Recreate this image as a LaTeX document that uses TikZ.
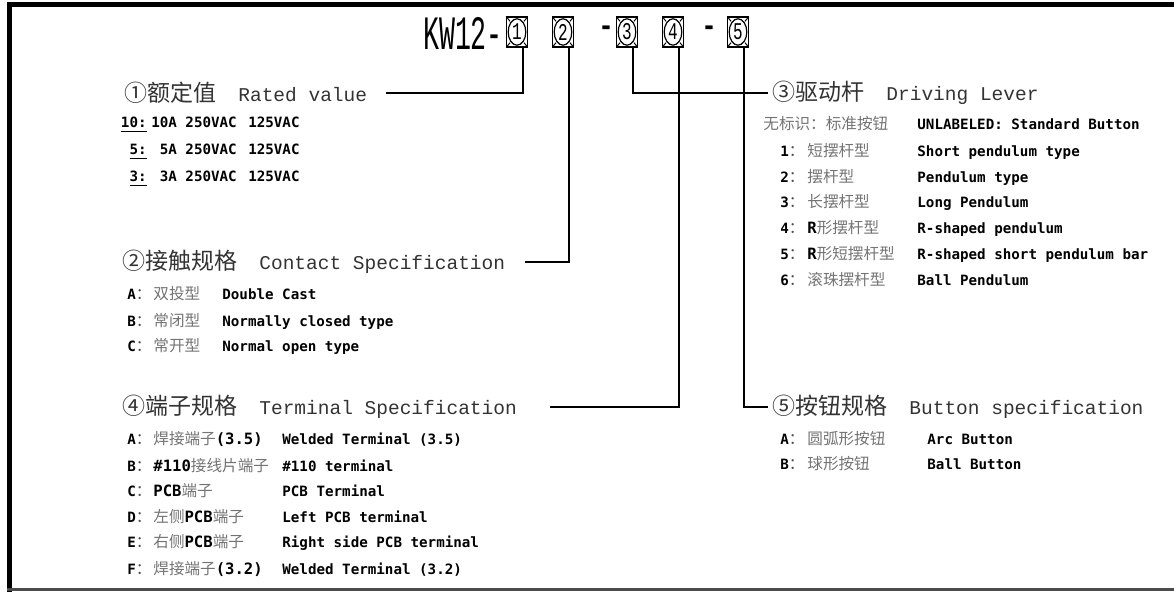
\documentclass[tikz,border=0pt]{standalone}
\usepackage{fontspec}
\usetikzlibrary{calc}
\newfontfamily\cjk{Noto Sans CJK SC}
\newfontfamily\monof{Liberation Mono}
\newfontfamily\boldf{DejaVu Sans Mono}
\newcommand\cjkhead{\cjk\fontsize{11.5}{12}\selectfont}
\newcommand\monohead{\monof\fontsize{9.75}{11}\selectfont}
\newcommand\itemen{\boldf\bfseries\fontsize{7.1}{8}\selectfont}
\newcommand\itemcn{\cjk\fontsize{7.8}{8}\selectfont}
\newcommand\bl[1]{{\boldf\bfseries\color{black}#1}}
\newcommand\lbl[1]{{\itemen #1}{\itemcn\color{black!70}：}}
\newcommand\heading[2]{{\cjkhead #1}\hspace{11pt}{\monohead #2}}

\begin{document}
\begin{tikzpicture}[x=0.5pt,y=-0.5pt,
    hd/.style={anchor=west,inner sep=2pt,text=black!80},
    lab/.style={anchor=base west,inner sep=0pt},
    cn/.style={anchor=base west,inner sep=0pt,font=\itemcn,text=black!55},
    en/.style={anchor=base west,inner sep=0pt,font=\itemen},
    rated/.style={anchor=base east,inner sep=0pt,font=\itemen},
    digbox/.style={draw,line width=0.9pt,minimum width=10.5pt,minimum height=15pt,inner sep=0pt,
      font=\monof\fontsize{8}{8}\selectfont,
      path picture={
        \draw[line width=0.6pt] (path picture bounding box.center) ellipse (4.4pt and 6.6pt);
        \draw[line width=0.5pt] (path picture bounding box.north west) -- ++(1.8pt,-2.2pt)
          (path picture bounding box.north east) -- ++(-1.8pt,-2.2pt)
          (path picture bounding box.south west) -- ++(1.8pt,2.2pt)
          (path picture bounding box.south east) -- ++(-1.8pt,2.2pt);}},
    link/.style={line width=1pt}]
  \useasboundingbox (0,0) rectangle (1174,592);

  % frame
  \draw[line width=2.5pt] (7,4.5) -- (1174,4.5);
  \draw[line width=2.5pt] (9.5,2) -- (9.5,592);
  \draw[line width=1.5pt,black!70] (7,590) -- (1174,590);

  % part number
  \node[inner sep=0pt,font=\monof\fontsize{13.3}{14}\selectfont] (title) at (463,33) {\scalebox{1}[1.8]{KW12-}};
  \node[digbox] (b1) at (517,32) {\scalebox{1}[1.5]{1}};
  \node[digbox] (b2) at (563,32) {\scalebox{1}[1.5]{2}};
  \node[inner sep=0pt,font=\monof\fontsize{13.3}{14}\selectfont] (d1) at (606,33) {\scalebox{1}[1.8]{-}};
  \node[digbox] (b3) at (627,32) {\scalebox{1}[1.5]{3}};
  \node[digbox] (b4) at (673,32) {\scalebox{1}[1.5]{4}};
  \node[inner sep=0pt,font=\monof\fontsize{13.3}{14}\selectfont] (d2) at (709,33) {\scalebox{1}[1.8]{-}};
  \node[digbox] (b5) at (738,32) {\scalebox{1}[1.5]{5}};

  % headings
  \node[hd] (h1) at (120,93) {\heading{①额定值}{Rated value}};
  \node[hd] (h2) at (118,262) {\heading{②接触规格}{Contact Specification}};
  \node[hd] (h3) at (768,93) {\heading{③驱动杆}{Driving Lever}};
  \node[hd] (h4) at (118,407) {\heading{④端子规格}{Terminal Specification}};
  \node[hd] (h5) at (768,407) {\heading{⑤按钮规格}{Button specification}};

  % leaders
  \draw[link] ([xshift=3pt]b1.south) |- ($(h1.east)+(14,0)$);
  \draw[link] ([xshift=3pt]b2.south) |- ($(h2.east)+(15,0)$);
  \draw[link] ([xshift=3pt]b3.south) |- (h3.west);
  \draw[link] ([xshift=3pt]b4.south) |- ($(h4.east)+(29,0)$);
  \draw[link] ([xshift=3pt]b5.south) |- (h5.west);

  % rated value
  \node[rated] (r1l1) at (147,128) {\underline{10:}};
  \node[rated] (r1v1) at (300,128) {10A 250VAC\hspace{1.5pt} 125VAC};
  \node[rated] (r1l2) at (147,155) {\underline{5:}};
  \node[rated] (r1v2) at (300,155) {5A 250VAC\hspace{1.5pt} 125VAC};
  \node[rated] (r1l3) at (147,182) {\underline{3:}};
  \node[rated] (r1v3) at (300,182) {3A 250VAC\hspace{1.5pt} 125VAC};

  % contact specification
  \foreach \yy/\nm/\zh/\tx [count=\i] in {295/A/双投型/Double Cast,
      322/B/常闭型/Normally closed type,
      347/C/常开型/Normal open type}{
    \node[lab] (r2l\i) at (127,\yy+5) {\lbl{\nm}};
    \node[cn] (r2c\i) at (153,\yy+5) {\zh};
    \node[en] (r2e\i) at (222,\yy+5) {\tx};
  }

  % driving lever
  \node[cn] (r3c0) at (763,130) {无标识：标准按钮};
  \node[en] (r3e0) at (917,130) {UNLABELED: Standard Button};
  \foreach \yy/\nm/\zh/\tx [count=\i] in {152/1/短摆杆型/Short pendulum type,
      178/2/摆杆型/Pendulum type,
      203/3/长摆杆型/Long Pendulum,
      229/4/\bl{R}形摆杆型/R-shaped pendulum,
      255/5/\bl{R}形短摆杆型/R-shaped short pendulum bar,
      281/6/滚珠摆杆型/Ball Pendulum}{
    \node[lab] (r3l\i) at (780,\yy+5) {\lbl{\nm}};
    \node[cn] (r3c\i) at (807,\yy+5) {\zh};
    \node[en] (r3e\i) at (917,\yy+5) {\tx};
  }

  % terminal specification
  \foreach \yy/\nm/\zh/\tx [count=\i] in {440/A/焊接端子\bl{(3.5)}/Welded Terminal (3.5),
      467/B/\bl{\#110}接线片端子/\#110 terminal,
      492/C/\bl{PCB}端子/PCB Terminal,
      518/D/左侧\bl{PCB}端子/Left PCB terminal,
      543/E/右侧\bl{PCB}端子/Right side PCB terminal,
      570/F/焊接端子\bl{(3.2)}/Welded Terminal (3.2)}{
    \node[lab] (r4l\i) at (127,\yy+5) {\lbl{\nm}};
    \node[cn] (r4c\i) at (153,\yy+5) {\zh};
    \node[en] (r4e\i) at (282,\yy+5) {\tx};
  }

  % button specification
  \foreach \yy/\nm/\zh/\tx [count=\i] in {440/A/圆弧形按钮/Arc Button,
      465/B/球形按钮/Ball Button}{
    \node[lab] (r5l\i) at (780,\yy+5) {\lbl{\nm}};
    \node[cn] (r5c\i) at (807,\yy+5) {\zh};
    \node[en] (r5e\i) at (927,\yy+5) {\tx};
  }
\end{tikzpicture}
\end{document}
